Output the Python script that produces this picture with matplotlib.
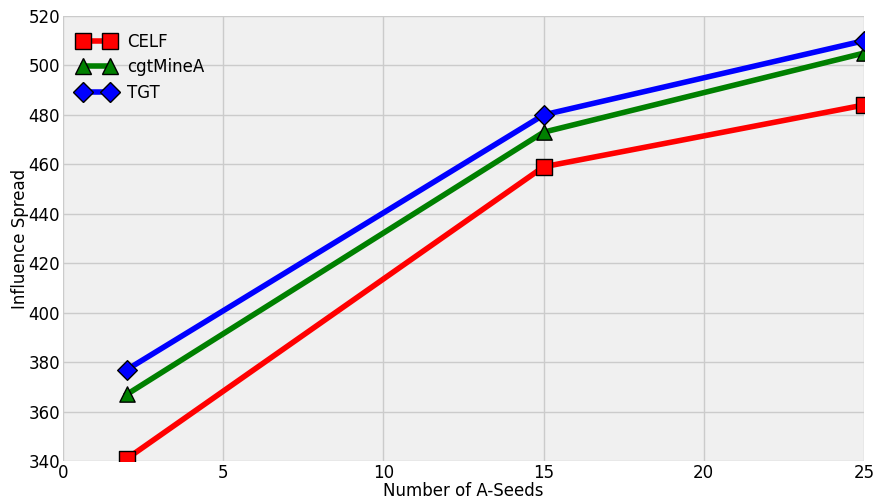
import matplotlib
matplotlib.use("Agg")
import matplotlib.pyplot as plt

x = [2, 15, 25]
celf = [341, 459, 484]
cgt = [367, 473, 505]
tgt = [377, 480, 510]

fig = plt.figure(figsize=(8.79, 4.99), dpi=100)
ax = fig.add_axes([63/879, 1-461/499, (864-63)/879, (461-16)/499])
ax.set_facecolor('#f0f0f0')
for s in ax.spines.values():
    s.set_visible(False)
ax.grid(True, color='#cbcbcb', linewidth=1)
ax.set_axisbelow(True)

series = [(celf, 'red', 's', 'CELF', 11), (cgt, 'green', '^', 'cgtMineA', 11), (tgt, 'blue', 'D', 'TGT', 10)]
lines = []
for vals, col, mk, lab, ms in series:
    ln, = ax.plot(x, vals, color=col, lw=4, marker=mk, ms=ms, mec='black', mew=1, label=lab, zorder=2)
    lines.append(ln)

ax.set_xlim(0, 25)
ax.set_ylim(340, 520)
ax.set_xticks([0, 5, 10, 15, 20, 25])
ax.set_yticks(range(340, 521, 20))
ax.tick_params(length=0, labelsize=12, pad=2)
ax.set_xlabel('Number of A-Seeds', fontsize=12, labelpad=0)
ax.set_ylabel('Influence Spread', fontsize=12, labelpad=0)
ax.legend(loc='upper left', frameon=False, fontsize=12, numpoints=2, handlelength=2.2,
          borderaxespad=0.6, labelspacing=0.45, handletextpad=0.75,
          bbox_to_anchor=(-0.002, 1.0))

# draw markers as clipped collections (like the reference, clipped at the axes edge)
for ln, (vals, col, mk, lab, ms) in zip(lines, series):
    ln.set_marker('None')
    ax.scatter(x, vals, s=ms**2, marker=mk, c=col, edgecolors='black', linewidths=1, zorder=3)

fig.savefig('out.png', dpi=100)
